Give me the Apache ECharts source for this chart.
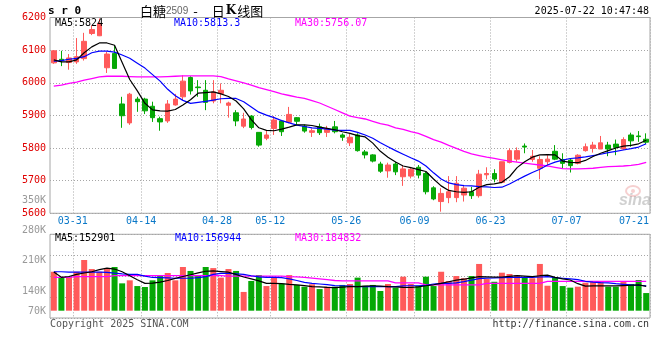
<!DOCTYPE html>
<html><head><meta charset="utf-8">
<script src="https://cdn.jsdelivr.net/npm/echarts@6/dist/echarts.min.js"></script>
<style>html,body{margin:0;padding:0;background:#fff}#c{width:660px;height:360px}</style>
</head><body><div id="c"></div>
<script>
// ---------- data ----------
const dates = ['03-27','03-28','03-31','04-01','04-02','04-03','04-07','04-08','04-09','04-10','04-11','04-14','04-15','04-16','04-17','04-18','04-21','04-22','04-23','04-24','04-25','04-28','04-29','04-30','05-06','05-07','05-08','05-09','05-12','05-13','05-14','05-15','05-16','05-19','05-20','05-21','05-22','05-23','05-26','05-27','05-28','05-29','05-30','06-03','06-04','06-05','06-06','06-09','06-10','06-11','06-12','06-13','06-16','06-17','06-18','06-19','06-20','06-23','06-24','06-25','06-26','06-27','06-30','07-01','07-02','07-03','07-04','07-07','07-08','07-09','07-10','07-11','07-14','07-15','07-16','07-17','07-18','07-21','07-22'];
const labeledDates = ['03-31','04-14','04-28','05-12','05-26','06-09','06-23','07-07','07-21'];

const openP = [6061,6072,6062,6064,6074,6151,6144,6046,6090,5935,5877,5950,5950,5928,5890,5883,5932,5957,6016,5987,5977,5944,5967,5931,5908,5867,5898,5848,5830,5860,5883,5879,5893,5867,5848,5865,5848,5865,5840,5816,5840,5788,5779,5751,5730,5751,5712,5714,5741,5722,5678,5636,5648,5648,5656,5666,5654,5718,5722,5695,5756,5766,5806,5765,5738,5758,5790,5765,5763,5753,5792,5799,5797,5809,5812,5797,5840,5837,5827];
const closeP = [6098,6068,6076,6080,6127,6163,6182,6088,6044,5899,5965,5942,5914,5893,5880,5935,5950,6005,5975,5985,5940,5972,5977,5938,5883,5889,5863,5809,5840,5886,5850,5903,5882,5852,5853,5847,5858,5850,5833,5833,5792,5779,5760,5729,5748,5727,5736,5735,5717,5666,5644,5661,5666,5692,5677,5654,5720,5722,5705,5758,5792,5792,5803,5775,5765,5766,5766,5753,5746,5778,5804,5809,5816,5797,5802,5826,5822,5835,5818];
const lowP = [6058,6051,6040,6058,6068,6146,6143,6030,6044,5862,5871,5911,5904,5880,5853,5877,5930,5947,5964,5957,5916,5937,5937,5893,5867,5861,5857,5804,5824,5840,5837,5876,5872,5847,5834,5840,5834,5845,5822,5806,5789,5768,5756,5724,5709,5717,5684,5707,5707,5658,5640,5605,5631,5634,5636,5644,5648,5704,5695,5692,5753,5758,5784,5758,5704,5748,5763,5738,5725,5750,5789,5786,5797,5775,5778,5794,5804,5819,5812];
const highP = [6100,6098,6088,6137,6153,6176,6197,6095,6115,5957,5969,5957,5954,5942,5896,5947,5966,6023,6020,6008,6008,6008,5998,5942,5916,5908,5901,5848,5855,5898,5886,5926,5895,5872,5860,5875,5868,5883,5845,5845,5845,5794,5781,5758,5755,5758,5748,5742,5748,5727,5683,5677,5714,5714,5687,5681,5733,5741,5735,5758,5799,5802,5814,5794,5775,5778,5809,5784,5768,5781,5814,5819,5837,5819,5826,5833,5847,5852,5845];

const ma5 = [6070,6064,6064,6070,6092,6110,6122,6122,6115,6062,6010,5975,5937,5917,5914,5913,5918,5932,5948,5968,5970,5972,5966,5958,5944,5920,5887,5862,5854,5853,5858,5864,5871,5871,5869,5864,5860,5856,5850,5845,5838,5834,5815,5790,5772,5757,5745,5740,5734,5728,5705,5684,5670,5666,5664,5666,5680,5688,5690,5695,5712,5740,5758,5772,5779,5780,5779,5760,5756,5755,5762,5774,5784,5792,5800,5806,5808,5813,5824];
const ma10 = [6066,6068,6072,6075,6080,6092,6097,6097,6094,6085,6075,6060,6045,6025,6005,5980,5960,5946,5937,5940,5943,5947,5951,5952,5952,5942,5926,5910,5901,5893,5884,5877,5870,5866,5862,5860,5858,5855,5854,5854,5848,5840,5830,5816,5804,5792,5781,5770,5760,5745,5724,5705,5693,5688,5685,5684,5682,5681,5679,5680,5690,5702,5714,5725,5735,5748,5757,5763,5768,5770,5773,5777,5781,5786,5790,5794,5798,5803,5813];
const ma30 = [5990,5993,5998,6002,6008,6013,6018,6020,6020,6020,6019,6018,6018,6018,6018,6019,6020,6021,6021,6021,6021,6021,6019,6012,6006,6000,5993,5985,5979,5973,5966,5961,5956,5952,5945,5938,5928,5918,5908,5898,5893,5889,5882,5875,5870,5862,5857,5850,5845,5836,5826,5818,5808,5799,5790,5782,5777,5772,5768,5764,5760,5757,5754,5751,5748,5745,5741,5737,5736,5736,5737,5738,5741,5743,5744,5745,5747,5750,5756];

// volume in thousand lots
const volume = [245,208,212,245,319,262,245,262,275,172,191,155,149,191,218,237,191,275,250,218,275,268,208,262,250,118,187,224,155,206,170,224,162,151,166,136,151,151,162,168,208,157,162,124,168,145,214,168,157,214,155,245,187,218,204,218,294,199,182,239,231,224,208,204,294,157,212,155,145,151,176,182,179,151,151,182,168,193,111];
const volMa5 = [243,210,215,228,237,245,258,268,262,245,220,195,172,174,180,190,203,215,226,238,248,250,246,242,228,212,200,188,172,172,170,165,162,158,152,150,147,145,148,151,152,155,157,154,151,150,147,146,150,157,163,172,182,192,198,206,214,213,211,212,216,220,218,214,220,224,210,200,193,170,155,156,157,156,156,158,160,162,153];
const volMa10 = [245,245,243,242,242,242,242,241,236,232,229,228,218,209,208,206,204,204,204,208,214,228,235,235,232,228,220,213,210,210,208,200,190,178,172,168,164,158,157,155,152,151,151,151,151,152,156,157,157,160,168,172,172,175,183,192,202,205,206,208,210,210,210,210,212,214,208,204,200,195,185,180,176,175,170,166,162,160,157];
const volMa30 = [210,210,210,214,214,214,214,214,220,220,220,220,220,220,220,220,220,220,220,220,220,220,220,218,218,218,218,218,218,218,218,214,213,210,205,200,195,190,187,187,187,187,187,187,187,175,175,175,175,163,163,163,163,163,163,163,163,172,172,172,172,172,172,172,172,184,184,184,184,184,184,184,184,184,184,184,184,184,185];

const priceMin = 5600, priceMax = 6200, priceStep = 100;
const volLabelMin = 70, volLabelMax = 350, volLabelStep = 70;

// ---------- style ----------
const mono = "'DejaVu Sans Mono', 'Liberation Mono', monospace";
const UP = '#ff5a5a', DOWN = '#06a806';
const GRIDC = '#a6a6a6';
const dotted = {color: GRIDC, width: 1, type: [1, 2]};

function splitAt(idx) { return idx > 0 && labeledDates.indexOf(dates[idx - 1]) >= 0 && dates[idx - 1] !== '07-21'; }

const chart = echarts.init(document.getElementById('c'), null, {renderer: 'canvas'});

function t(x, y, text, fill, extra) {
  return {type: 'text', silent: true, z: 100,
    style: Object.assign({x: x, y: y, text: text, fill: fill, font: '10px ' + mono, align: 'left', verticalAlign: 'middle'}, extra || {})};
}

const option = {
  animation: false,
  backgroundColor: '#fff',
  grid: [
    {left: 50, top: 17.5, width: 600, height: 195.8, show: true, borderColor: GRIDC, borderWidth: 1, backgroundColor: 'transparent'},
    {left: 50, top: 234.3, width: 600, height: 83.7, show: true, borderColor: GRIDC, borderWidth: 1, backgroundColor: 'transparent'},
    {left: 50, top: 200, width: 600, height: 121.3, show: false}
  ],
  xAxis: [
    {type: 'category', gridIndex: 0, data: dates, boundaryGap: true,
      axisLine: {show: false}, axisTick: {show: false},
      axisLabel: {
        interval: function (i, v) { return labeledDates.indexOf(v) >= 0; },
        margin: 3,
        formatter: function (v) { return v === '07-21' ? '{e|' + v + '}' : '{n|' + v + '}'; },
        rich: {
          n: {color: '#0a78c8', fontFamily: mono, fontSize: 10, padding: [0, 0, 0, 7.6]},
          e: {color: '#0a78c8', fontFamily: mono, fontSize: 10, padding: [0, 9.2, 0, 0]}
        }
      },
      splitLine: {show: true, interval: function (i) { return splitAt(i); }, lineStyle: dotted}
    },
    {type: 'category', gridIndex: 1, data: dates, boundaryGap: true,
      axisLine: {show: false}, axisTick: {show: false}, axisLabel: {show: false},
      splitLine: {show: true, interval: function (i) { return splitAt(i); }, lineStyle: dotted}
    },
    {type: 'value', gridIndex: 2, min: 0, max: 1, show: false}
  ],
  yAxis: [
    {type: 'value', gridIndex: 0, min: priceMin, max: priceMax, interval: priceStep,
      axisLine: {show: false}, axisTick: {show: false},
      axisLabel: {color: '#e00000', fontFamily: mono, fontSize: 10, margin: 4,
        formatter: function (v) { return String(v); }},
      splitLine: {show: true, lineStyle: dotted}},
    {type: 'value', gridIndex: 1, min: 0, max: 4, interval: 1,
      axisLine: {show: false}, axisTick: {show: false}, axisLabel: {show: false},
      splitLine: {show: true, lineStyle: dotted}},
    {type: 'value', gridIndex: 1, min: -45.9, max: 480.5, show: false, splitLine: {show: false}},
    {type: 'value', gridIndex: 2, min: volLabelMin, max: volLabelMax, interval: volLabelStep,
      axisLine: {show: false}, axisTick: {show: false}, splitLine: {show: false},
      axisLabel: {margin: 4,
        formatter: function (v) { return v === volLabelMin ? '{u|' + v + 'K}' : '{n|' + v + 'K}'; },
        rich: {
          n: {color: '#999', fontFamily: mono, fontSize: 10},
          u: {color: '#999', fontFamily: mono, fontSize: 10, padding: [0, 0, 20, 0]}
        }}}
  ],
  series: [
    {type: 'candlestick', xAxisIndex: 0, yAxisIndex: 0, barWidth: 5,
      data: dates.map(function (d, i) { return [openP[i], closeP[i], lowP[i], highP[i]]; }),
      itemStyle: {color: UP, color0: DOWN, borderColor: UP, borderColor0: DOWN, borderWidth: 1}},
    {type: 'line', xAxisIndex: 0, yAxisIndex: 0, data: ma30, symbol: 'none', lineStyle: {color: '#ff00ff', width: 1.3}, z: 3},
    {type: 'line', xAxisIndex: 0, yAxisIndex: 0, data: ma10, symbol: 'none', lineStyle: {color: '#0000ff', width: 1.2}, z: 4},
    {type: 'line', xAxisIndex: 0, yAxisIndex: 0, data: ma5, symbol: 'none', lineStyle: {color: '#000000', width: 1.2}, z: 5},
    {type: 'bar', xAxisIndex: 1, yAxisIndex: 2, barWidth: 6,
      data: volume.map(function (v, i) {
        return {value: v, itemStyle: {color: closeP[i] >= openP[i] ? UP : DOWN}};
      })},
    {type: 'line', xAxisIndex: 1, yAxisIndex: 2, data: volMa30, symbol: 'none', lineStyle: {color: '#ff00ff', width: 1.3}, z: 3},
    {type: 'line', xAxisIndex: 1, yAxisIndex: 2, data: volMa10, symbol: 'none', lineStyle: {color: '#0000ff', width: 1.2}, z: 4},
    {type: 'line', xAxisIndex: 1, yAxisIndex: 2, data: volMa5, symbol: 'none', lineStyle: {color: '#000000', width: 1.2}, z: 5}
  ],
  graphic: [
    t(48, 11, 's r 0', '#000', {font: 'bold 11px ' + mono}),
    {type: 'text', silent: true, z: 100, style: {x: 140, y: 11, align: 'left', verticalAlign: 'middle',
      text: '{a|白糖}{b|2509}{c|-}{a|日}{k|K}{a|线图}',
      rich: {
        a: {fontFamily: "'Noto Sans CJK SC'", fontSize: 13, fill: '#000', color: '#000'},
        b: {fontFamily: "'Liberation Sans'", fontSize: 10, fill: '#666', color: '#666'},
        c: {fontFamily: "'Noto Sans CJK SC'", fontSize: 13, fill: '#000', color: '#000', padding: [0, 14, 0, 5]},
        k: {fontFamily: "'DejaVu Serif'", fontWeight: 'bold', fontSize: 12, fill: '#000', color: '#000', padding: [0, 1, 0, 1]}
      }}},
    t(649, 11.5, '2025-07-22 10:47:48', '#000', {align: 'right'}),
    t(55, 23.7, 'MA5:5824', '#000'),
    t(174, 23.7, 'MA10:5813.3', '#0000ff'),
    t(295, 23.7, 'MA30:5756.07', '#ff00ff'),
    t(55, 238.7, 'MA5:152901', '#000'),
    t(175, 238.7, 'MA10:156944', '#0000ff'),
    t(295, 238.7, 'MA30:184832', '#ff00ff'),
    t(50, 324, 'Copyright 2025 SINA.COM', '#555'),
    t(649, 324.5, 'http://finance.sina.com.cn', '#333', {align: 'right'}),
    {type: 'ellipse', silent: true, z: 1, shape: {cx: 633, cy: 191, rx: 7, ry: 5},
      style: {fill: 'none', stroke: 'rgba(230,120,120,0.35)', lineWidth: 2}},
    {type: 'circle', silent: true, z: 1, shape: {cx: 633, cy: 191, r: 2},
      style: {fill: 'rgba(230,120,120,0.35)'}},
    t(619, 201, 'sina', 'rgba(150,150,150,0.45)', {font: 'italic bold 16px Arial, sans-serif'})
  ]
};
chart.setOption(option);
</script>
</body></html>
